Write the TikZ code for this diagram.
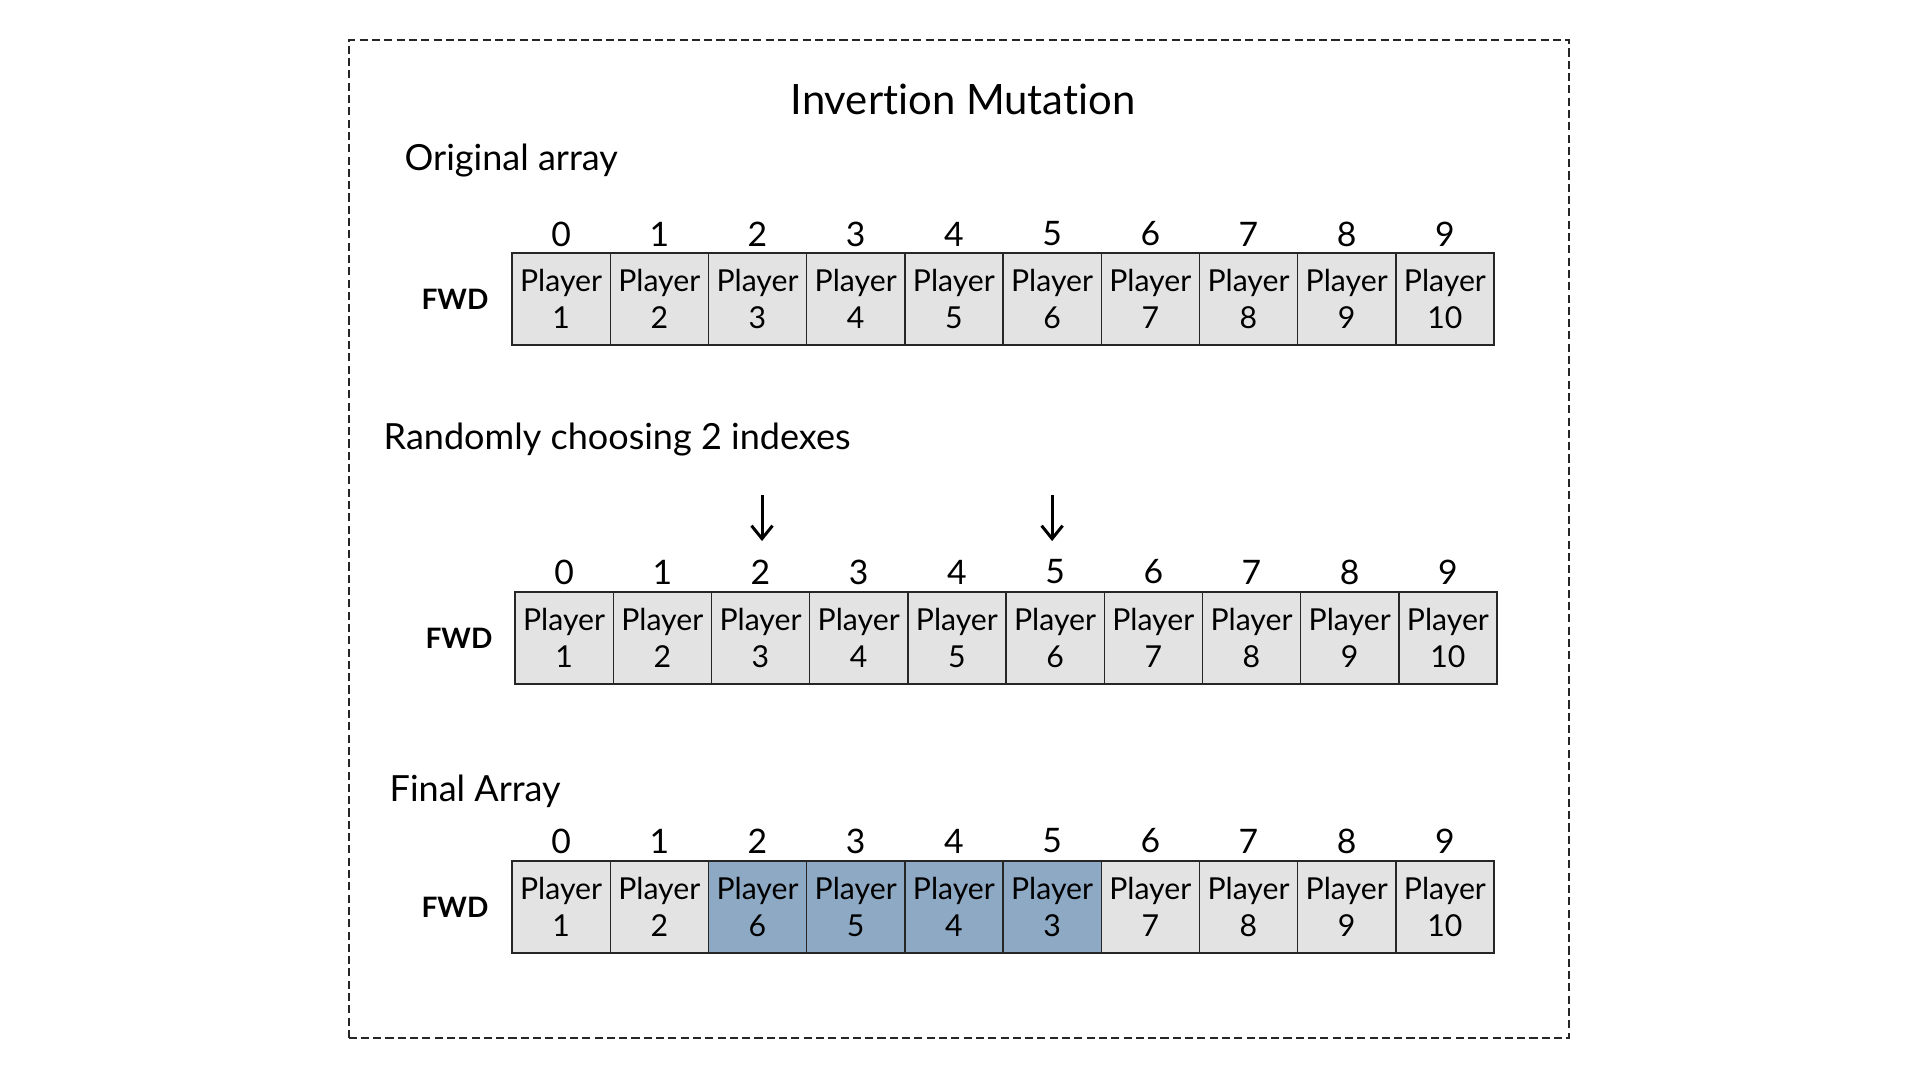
\documentclass[tikz,border=0pt]{standalone}
\usepackage{fontspec}
\setmainfont{Lato}[Ligatures=NoCommon]
\usetikzlibrary{arrows.meta,positioning,calc}
\definecolor{cellgray}{RGB}{227,227,227}
\definecolor{cellblue}{RGB}{142,169,196}
\tikzset{
  cell/.style={draw=black!85, line width=0.4pt, fill=cellgray, minimum width=0.982cm,
    minimum height=0.92cm, inner sep=0pt, align=center,
    font=\fontsize{8.6}{10.5}\selectfont},
  idx/.style={inner sep=0pt, font=\fontsize{9.6}{11}\selectfont},
  rowlabel/.style={inner sep=0pt, font=\fontsize{8}{10}\selectfont\bfseries},
  heading/.style={inner sep=0pt, anchor=west, font=\fontsize{10.25}{12}\selectfont},
  arrow/.style={-{Straight Barb[length=1.3mm,width=2.1mm]}, line width=0.85pt},
}

\begin{document}
\begin{tikzpicture}
  \useasboundingbox (0,0) rectangle (19.2,10.8);
  \draw[black!85, line width=0.45pt, dash pattern=on 2.3pt off 1.2pt] (3.49,0.42) rectangle (15.69,10.40);

  \node[inner sep=0pt, font=\fontsize{11.9}{14}\selectfont] (title) at (9.63,9.81) {Invertion Mutation};

  % original array
  \node[heading] (orig) at (4.04,9.19) {Original array};
  \node[rowlabel] (fwdA) at (4.55,7.81) {FWD};
  \foreach \i in {0,...,9}{
    \pgfmathtruncatemacro\n{\i+1}
    \node[cell] (o\i) at ({5.12+(\i+0.5)*0.982},7.81) {Player\\\n};
    \node[idx] (oi\i) at ({5.12+(\i+0.5)*0.982},8.46) {\i};
  }

  % choosing indexes
  \node[heading] (rand) at (3.83,6.40) {Randomly choosing 2 indexes};
  \node[rowlabel] (fwdB) at (4.59,4.42) {FWD};
  \foreach \i in {0,...,9}{
    \pgfmathtruncatemacro\n{\i+1}
    \node[cell] (m\i) at ({5.15+(\i+0.5)*0.982},4.42) {Player\\\n};
    \node[idx] (mi\i) at ({5.15+(\i+0.5)*0.982},5.08) {\i};
  }
  \coordinate (pickA) at ($(mi2.north)+(0.015,0.64)$);
  \coordinate (pickB) at ($(mi5.north)+(-0.03,0.64)$);
  \draw[arrow, shorten >=0.18cm] (pickA) -- (pickA |- mi2.north);
  \draw[arrow, shorten >=0.18cm] (pickB) -- (pickB |- mi5.north);

  % final array
  \node[heading] (final) at (3.89,2.89) {Final Array};
  \node[rowlabel] (fwdC) at (4.55,1.73) {FWD};
  \foreach \i/\p/\c in {0/1/cellgray,1/2/cellgray,2/6/cellblue,3/5/cellblue,4/4/cellblue,
      5/3/cellblue,6/7/cellgray,7/8/cellgray,8/9/cellgray,9/10/cellgray}{
    \node[cell, fill=\c] (f\i) at ({5.12+(\i+0.5)*0.982},1.73) {Player\\\p};
    \node[idx] (fi\i) at ({5.12+(\i+0.5)*0.982},2.39) {\i};
  }
\end{tikzpicture}
\end{document}
